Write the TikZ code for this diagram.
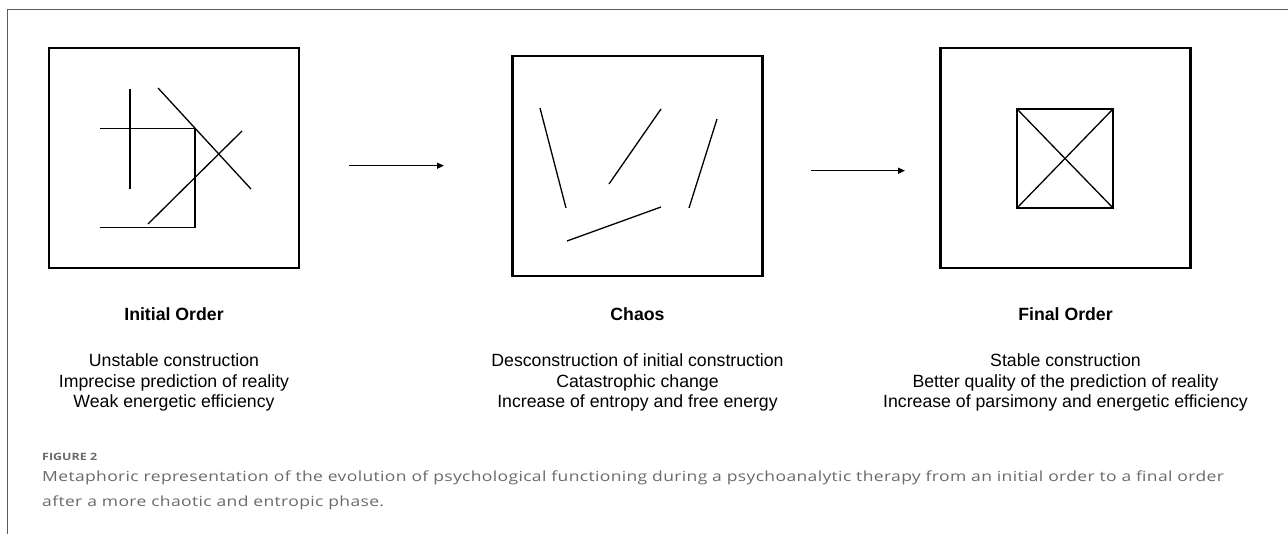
\documentclass[tikz,border=0pt]{standalone}
\usepackage{fontspec}
\usepackage{graphicx}
\setmainfont{Liberation Sans}
\newfontfamily\capfont[FakeStretch=1.25,LetterSpace=2.5]{Open Sans}
\newfontfamily\capheadfont{Open Sans}
\usetikzlibrary{arrows.meta}
\definecolor{framegray}{HTML}{5A5A5A}
\definecolor{capgray}{HTML}{6A6A6A}
\begin{document}
\begin{tikzpicture}[x=1pt,y=-1pt,
  frame/.style={draw=framegray,line width=1pt},
  panel/.style={draw=black,line width=2.6pt,inner sep=0pt,minimum width=250pt,minimum height=220pt},
  seg/.style={draw=black,line width=1.3pt},
  flow/.style={draw=black,line width=1.3pt,-{Triangle[length=7pt,width=6pt]}},
  head/.style={font=\bfseries\fontsize{17.7}{20}\selectfont,anchor=base,inner sep=0pt},
  body/.style={font=\fontsize{17.7}{20}\selectfont,anchor=base,inner sep=0pt},
  capt/.style={font=\capfont\fontsize{14}{17}\selectfont,text=capgray,anchor=base west,inner sep=0pt},
  caphead/.style={font=\capheadfont\bfseries,text=capgray,anchor=base west,inner sep=0pt}]
\useasboundingbox (0,0) rectangle (1288,534);
% outer frame
\draw[frame] (7.5,534) -- (7.5,10) -- (1288,10);

% panels
\node[panel] (p1) at (174,158) {};
\node[panel] (p2) at (637.5,166) {};
\node[panel] (p3) at (1065.5,158) {};

% panel 1: unstable construction
\draw[seg] (130,89) -- (130,189);
\draw[seg] (100,128.7) -- (195,128.7) -- (195,227.3) -- (100,227.3);
\draw[seg] (158,88) -- (251,189);
\draw[seg] (148,224) -- (242,131);

% panel 2: chaos
\draw[seg] (540,108) -- (566,208);
\draw[seg] (661,109) -- (609,184);
\draw[seg] (717,119) -- (689,208);
\draw[seg] (567,241) -- (661,207);

% panel 3: stable construction
\node[draw=black,line width=1.3pt,inner sep=0pt,minimum width=96pt,minimum height=99pt] (sq) at (1065,158.5) {};
\draw[seg] (sq.north west) -- (sq.south east);
\draw[seg] (sq.south west) -- (sq.north east);

% arrows
\coordinate (a1s) at (349,165.7);
\coordinate (a1e) at (444,165.7);
\coordinate (a2s) at (811,170.7);
\coordinate (a2e) at (905,170.7);
\draw[flow] (a1s) -- (a1e);
\draw[flow] (a2s) -- (a2e);

% labels
\node[head] (h1) at (174,321) {Initial Order};
\node[body] (t11) at (174,367) {Unstable construction};
\node[body] (t12) at (174,387.5) {Imprecise prediction of reality};
\node[body] (t13) at (174,408) {Weak energetic efficiency};

\node[head] (h2) at (637.5,321) {Chaos};
\node[body] (t21) at (637.5,367) {Desconstruction of initial construction};
\node[body] (t22) at (637.5,387.5) {Catastrophic change};
\node[body] (t23) at (637.5,408) {Increase of entropy and free energy};

\node[head] (h3) at (1065.5,321) {Final Order};
\node[body] (t31) at (1065.5,367) {Stable construction};
\node[body] (t32) at (1065.5,387.5) {Better quality of the prediction of reality};
\node[body] (t33) at (1065.5,408) {Increase of parsimony and energetic efficiency};

% caption
\node[caphead] (fig) at (42,460) {\resizebox{55pt}{7.3pt}{FIGURE 2}};
\node[capt] (c1) at (42,481.7) {Metaphoric representation of the evolution of psychological functioning during a psychoanalytic therapy from an initial order to a final order};
\node[capt] (c2) at (42,506.7) {after a more chaotic and entropic phase.};
\end{tikzpicture}
\end{document}
